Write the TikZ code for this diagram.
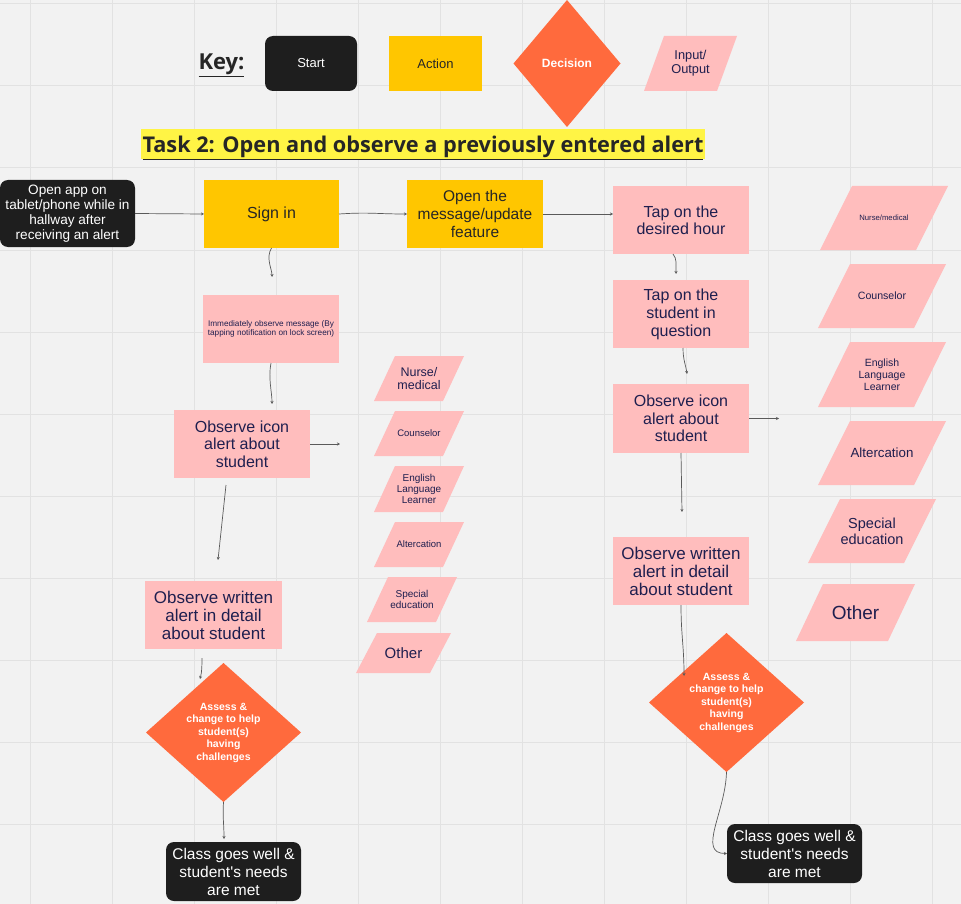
\documentclass[tikz,border=0pt]{standalone}
\usepackage{fontspec}
\setmainfont{Liberation Sans}
\newfontfamily\titlefont{Open Sans}
\usetikzlibrary{shapes.geometric,arrows.meta,calc}

\definecolor{bgcol}{HTML}{F2F2F2}
\definecolor{gridcol}{HTML}{E2E2E2}
\definecolor{startcol}{HTML}{1E1E1E}
\definecolor{actioncol}{HTML}{FFC600}
\definecolor{deccol}{HTML}{FF6A3D}
\definecolor{iocol}{HTML}{FFBDBD}
\definecolor{navytext}{HTML}{1F1F4F}
\definecolor{conncol}{HTML}{5A5A5A}
\definecolor{hlcol}{HTML}{FFF445}

\newcommand{\fsz}[2]{\fontsize{#1}{#2}\selectfont}
% parallelogram: name, x1, y1, x2, y2, slant, font, text
\newcommand{\iobox}[8]{%
  \fill[iofill] ({#2+#6},#3) -- (#4,#3) -- ({#4-#6},#5) -- (#2,#5) -- cycle;
  \node[iotext, font=#7] (#1) at ({(#2+#4)/2},{(#3+#5)/2}) {#8};}

\tikzset{
  startbox/.style={rectangle, rounded corners=8pt, fill=startcol, text=white, align=center, inner sep=0pt, outer sep=0pt},
  actionbox/.style={rectangle, fill=actioncol, text=black!85, align=center, inner sep=0pt, outer sep=0pt},
  pinkbox/.style={rectangle, fill=iocol, text=navytext, align=center, inner sep=0pt, outer sep=0pt},
  decbox/.style={diamond, fill=deccol, text=white, align=center, inner sep=0pt, outer sep=0pt, font=\bfseries\fsz{10.5}{12.5}},
  iofill/.style={fill=iocol},
  iotext/.style={text=navytext, align=center, inner sep=0pt},
  conn/.style={draw=conncol, line width=0.7pt, -{Stealth[length=3pt,width=3pt]}},
  gridline/.style={draw=gridcol, line width=1pt}
}

\begin{document}
\begin{tikzpicture}[x=1pt,y=-1pt]
\fill[bgcol] (0,0) rectangle (961,904);
\useasboundingbox (0,0) rectangle (961,904);
\foreach \gx in {30,112,...,932} \draw[gridline] (\gx,0) -- (\gx,904);
\foreach \gy in {4,86,...,824} \draw[gridline] (0,\gy) -- (961,\gy);

% key
\node[font=\titlefont\bfseries\fsz{22}{24}, text=black!85] (keylabel) at (221.5,65) {\underline{Key:}};
\node[startbox, minimum width=92pt, minimum height=55pt, font=\fsz{13}{15}] (keystart) at (311,63.5) {Start};
\node[actionbox, minimum width=93pt, minimum height=55pt, font=\fsz{13}{15}] (keyaction) at (435.5,63.5) {Action};
\node[decbox, minimum width=107pt, minimum height=127pt, font=\bfseries\fsz{12}{14}] (keydec) at (567,63.5) {Decision};
\iobox{keyio}{644}{36}{737}{91}{20}{\fsz{12.8}{14}}{Input/\\Output}

\node[fill=hlcol, minimum width=564pt, minimum height=30pt, inner sep=0pt, text depth=0pt, font=\titlefont\bfseries\fsz{21.7}{24}, text=black!85] (title) at (423,144) {\underline{Task 2: Open and observe a previously entered alert}};

% left flow
\node[startbox, minimum width=135pt, minimum height=67pt, font=\fsz{13.6}{15}] (start) at (67.5,213.5) {Open app on\\tablet/phone while in\\hallway after\\receiving an alert};
\node[actionbox, minimum width=135pt, minimum height=68pt, font=\fsz{16}{18}] (signin) at (271.5,214) {Sign in};
\node[actionbox, minimum width=136pt, minimum height=68pt, font=\fsz{15.5}{18}] (openmsg) at (475,214) {Open the\\message/update\\feature};
\node[pinkbox, minimum width=136pt, minimum height=68pt, font=\fsz{8.2}{9.2}] (immed) at (271,329) {Immediately observe message (By\\tapping notification on lock screen)};
\node[pinkbox, minimum width=136pt, minimum height=68pt, font=\fsz{16}{17.5}] (iconL) at (242,444) {Observe icon\\alert about\\student};
\node[pinkbox, minimum width=137pt, minimum height=68pt, font=\fsz{17}{18}] (writtenL) at (213.5,615) {Observe written\\alert in detail\\about student};
\node[decbox, minimum width=155pt, minimum height=139pt] (assessL) at (223.5,732.5) {Assess \&\\change to help\\student(s)\\having\\challenges};
\node[startbox, minimum width=135pt, minimum height=59pt, font=\fsz{15.5}{18}] (endL) at (233.5,871.5) {Class goes well \&\\student\textquotesingle s needs\\are met};

\iobox{nurseL}{374}{356}{464}{401}{21}{\fsz{12.5}{13.5}}{Nurse/\\medical}
\iobox{counsL}{374}{411}{464}{456}{21}{\fsz{9.5}{11}}{Counselor}
\iobox{ellL}{374}{466}{464}{512}{21}{\fsz{10}{10.8}}{English\\Language\\Learner}
\iobox{altL}{374}{522}{464}{567}{21}{\fsz{9.5}{11}}{Altercation}
\iobox{specL}{367}{577}{457}{622}{21}{\fsz{10}{11}}{Special\\education}
\iobox{otherL}{356}{633}{451}{673}{21}{\fsz{15}{17}}{Other}

% right flow
\node[pinkbox, minimum width=136pt, minimum height=68pt, font=\fsz{16}{17}] (taphour) at (681,220) {Tap on the\\desired hour};
\node[pinkbox, minimum width=136pt, minimum height=68pt, font=\fsz{16}{18}] (tapstud) at (681,314) {Tap on the\\student in\\question};
\node[pinkbox, minimum width=136pt, minimum height=69pt, font=\fsz{16}{17.7}] (iconR) at (681,418.5) {Observe icon\\alert about\\student};
\node[pinkbox, minimum width=136pt, minimum height=68pt, font=\fsz{17}{18}] (writtenR) at (681,571) {Observe written\\alert in detail\\about student};
\node[decbox, minimum width=155pt, minimum height=139pt] (assessR) at (726.5,702.5) {Assess \&\\change to help\\student(s)\\having\\challenges};
\node[startbox, minimum width=135pt, minimum height=59pt, font=\fsz{15.5}{18}] (endR) at (794.5,853.5) {Class goes well \&\\student\textquotesingle s needs\\are met};

\iobox{nurseR}{820}{186}{948}{250}{32}{\fsz{7.7}{9}}{Nurse/medical}
\iobox{counsR}{818}{264}{946}{328}{32}{\fsz{10.6}{12}}{Counselor}
\iobox{ellR}{818}{342}{946}{407}{32}{\fsz{10.5}{12}}{English\\Language\\Learner}
\iobox{altR}{818}{421}{946}{485}{32}{\fsz{13.3}{15}}{Altercation}
\iobox{specR}{808}{499}{936}{563}{32}{\fsz{14.5}{16}}{Special\\education}
\iobox{otherR}{796}{584}{915}{641}{27}{\fsz{19}{21}}{Other}

% free ends
\coordinate (immedin) at ($(immed.north)+(1,-18)$);
\coordinate (iconLin) at ($(immed.south)+(1,41)$);
\coordinate (iconLout) at ($(iconL.east)+(30,0)$);
\coordinate (iconLdown) at ($(iconL.south)+(-16,7)$);
\coordinate (writtenLin) at ($(writtenL.north)+(4.5,-21)$);
\coordinate (writtenLdown) at ($(writtenL.south)+(-11.5,9)$);
\coordinate (assessLin) at ($(assessL.north)+(-23.5,16)$);
\coordinate (endLin) at ($(endL.north)+(-9.5,-3)$);
\coordinate (taphourdown) at ($(taphour.south)+(-8,0)$);
\coordinate (tapstudin) at ($(tapstud.north)+(-5,-6)$);
\coordinate (tapstuddown) at ($(tapstud.south)+(2,0)$);
\coordinate (iconRin) at ($(iconR.north)+(6,-10)$);
\coordinate (iconRout) at ($(iconR.east)+(30,0)$);
\coordinate (writtenRin) at ($(writtenR.north)+(1,-25)$);
\coordinate (assessRin) at ($(writtenR.south)+(3,71)$);

\draw[conn] (start.east) -- (signin.west);
\draw[conn] (signin.east) .. controls +(30,-2) and +(-30,0) .. (openmsg.west);
\draw[conn] (openmsg.east) -- (openmsg.east -| taphour.west);
\draw[conn] (signin.south) .. controls +(-6,10) and +(0,-8) .. (immedin);
\draw[conn] (immed.south) .. controls +(-3,15) and +(0,-12) .. (iconLin);
\draw[conn] (iconL.east) -- (iconLout);
\draw[conn] (iconLdown) -- (writtenLin);
\draw[conn] (writtenLdown) .. controls +(0,14) and +(1,-4) .. (assessLin);
\draw[conn] (assessL.south) .. controls +(-1,15) and +(0,-15) .. (endLin);
\draw[conn] (taphourdown) .. controls +(4,5) and +(0,-10) .. (tapstudin);
\draw[conn] (tapstuddown) .. controls +(0,12) and +(-1,-8) .. (iconRin);
\draw[conn] (iconR.east) -- (iconRout);
\draw[conn] (iconR.south) -- (writtenRin);
\draw[conn] (writtenR.south) .. controls +(0,30) and +(0,-30) .. (assessRin);
\draw[conn] (assessR.south) .. controls +(-1,40) and +(-30,0) .. (endR.west);
\end{tikzpicture}
\end{document}
